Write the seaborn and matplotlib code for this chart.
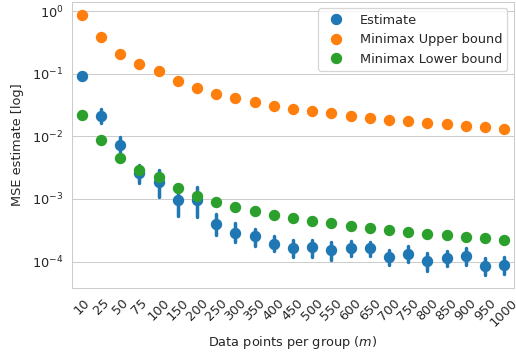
import numpy as np
import pandas as pd
import matplotlib
matplotlib.use("Agg")
import matplotlib.pyplot as plt
import seaborn as sns

m_values = ["10", "25", "50", "75", "100", "150", "200", "250", "300", "350", "400",
            "450", "500", "550", "600", "650", "700", "750", "800", "850", "900", "950", "1000"]

estimate = [0.094, 0.0213, 0.0072, 0.00256, 0.00189, 0.00095, 0.00095, 0.00040, 0.00029,
            0.000253, 0.000193, 0.000167, 0.000168, 0.000153, 0.000164, 0.000164, 0.000119,
            0.000131, 0.000101, 0.000113, 0.000121, 0.0000846, 0.0000877]
estimate_lo = [0.090, 0.0167, 0.00557, 0.00177, 0.00108, 0.000537, 0.000506, 0.000265, 0.000208,
               0.000180, 0.000150, 0.000117, 0.000119, 0.000104, 0.000122, 0.000121, 0.0000865,
               0.0000978, 0.0000705, 0.0000845, 0.0000865, 0.0000615, 0.0000638]
estimate_hi = [0.098, 0.0272, 0.00978, 0.00356, 0.00296, 0.00128, 0.00155, 0.000586, 0.000411,
               0.000335, 0.000253, 0.000223, 0.000223, 0.000208, 0.000215, 0.000208, 0.000153,
               0.000175, 0.000136, 0.000150, 0.000163, 0.000113, 0.000117]
upper_bound = [0.877, 0.386, 0.211, 0.146, 0.112, 0.0775, 0.0593, 0.0482, 0.0407, 0.0352, 0.0310,
               0.0278, 0.0256, 0.0235, 0.0215, 0.0200, 0.0186, 0.0175, 0.0167, 0.0157, 0.0148,
               0.0141, 0.0133]
lower_bound = [0.0221, 0.00887, 0.00447, 0.00296, 0.00221, 0.00148, 0.00110, 0.000896, 0.000738,
               0.000638, 0.000557, 0.000494, 0.000448, 0.000407, 0.000373, 0.000343, 0.000319,
               0.000300, 0.000278, 0.000262, 0.000246, 0.000235, 0.000221]

series_names = ["Estimate", "Minimax Upper bound", "Minimax Lower bound"]

rows = []
for i, m in enumerate(m_values):
    for v in (estimate_lo[i], estimate[i], estimate_hi[i]):
        rows.append({"m": m, "mse": v, "kind": series_names[0]})
    rows.append({"m": m, "mse": upper_bound[i], "kind": series_names[1]})
    rows.append({"m": m, "mse": lower_bound[i], "kind": series_names[2]})
df = pd.DataFrame(rows)

sns.set_style("whitegrid")
DPI = 93
fig = plt.figure(figsize=(516 / DPI, 354 / DPI), dpi=DPI)
ax = fig.add_axes([72.3 / 516, 1 - 287.7 / 354, (513.8 - 72.3) / 516, (287.7 - 2) / 354])
ax.set_yscale("log")

sns.pointplot(data=df, x="m", y="mse", hue="kind", order=m_values, hue_order=series_names,
              estimator="median", errorbar=lambda v: (v.min(), v.max()),
              linestyle="none", markers="o", dodge=False, ax=ax,
              palette=["#1f77b4", "#ff7f0e", "#2ca02c"])

ax.set_xlabel("Data points per group ($m$)")
ax.set_ylabel("MSE estimate [log]", labelpad=6.5)
ax.tick_params(axis="x", rotation=45)
for lab in ax.get_xticklabels():
    lab.set_ha("center")
ax.legend(loc="upper right", title=None)

fig.savefig("out.png", dpi=DPI)
